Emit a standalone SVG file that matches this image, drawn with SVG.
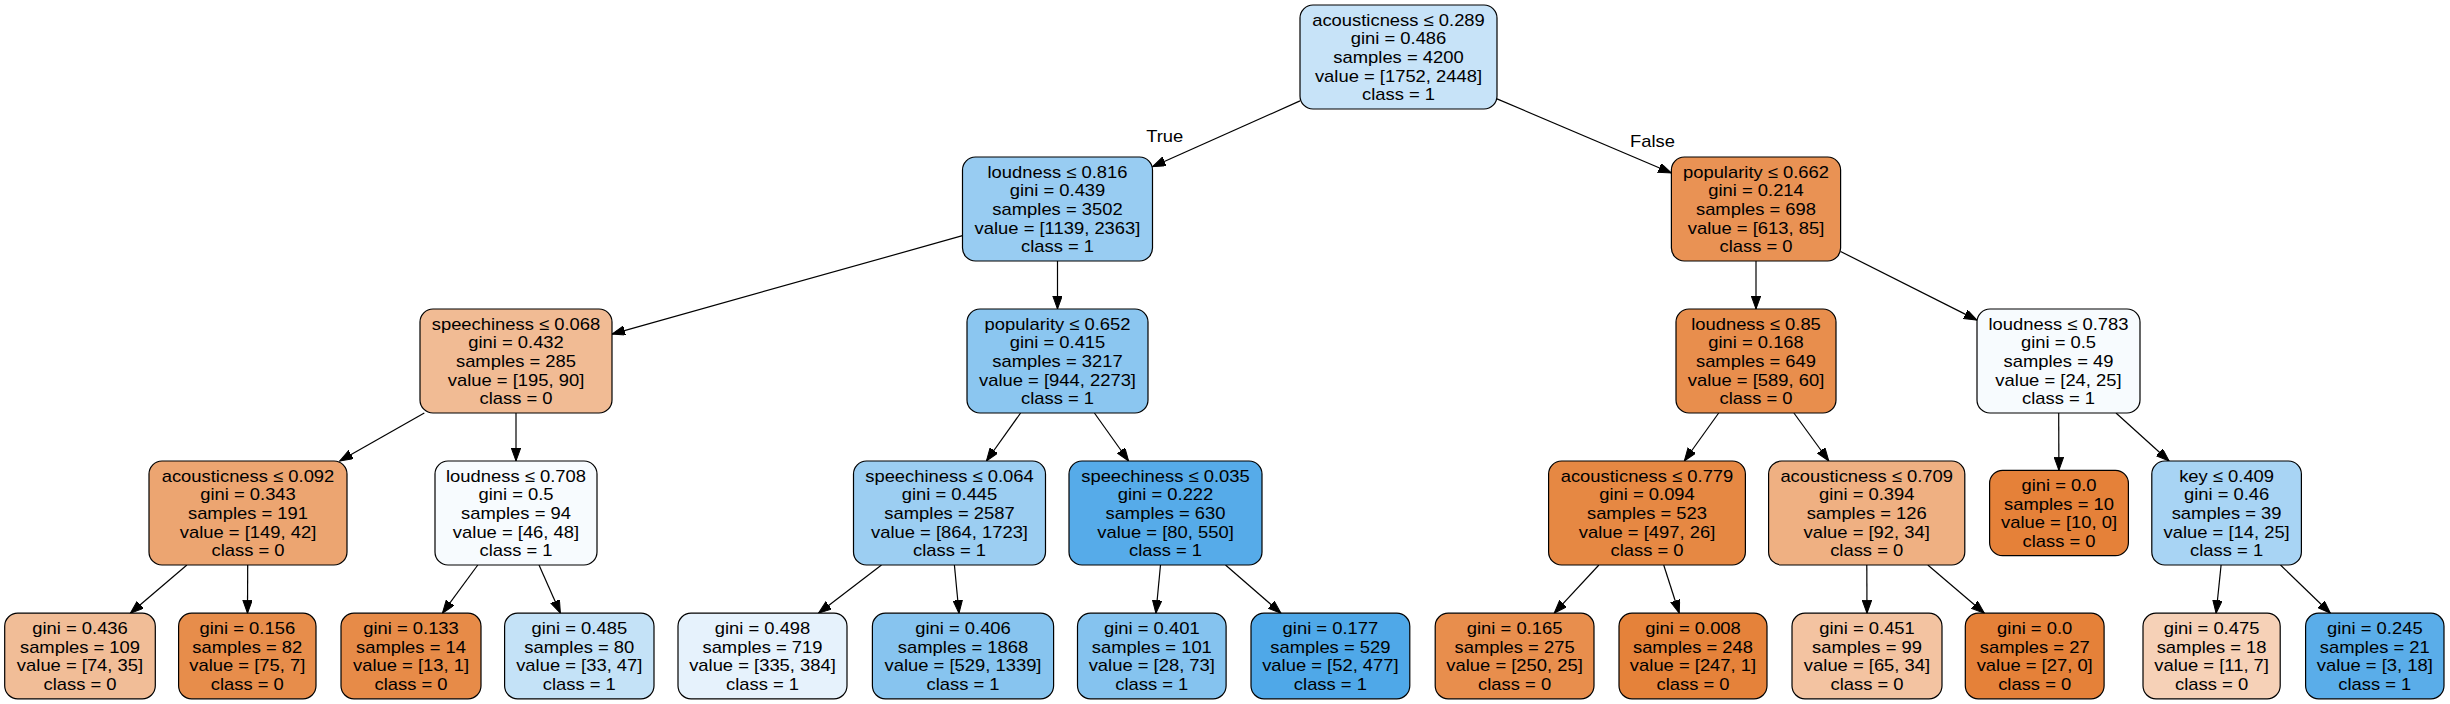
<svg xmlns="http://www.w3.org/2000/svg" width="2450" height="704" viewBox="0 0 2450 704">
<style>
  .node rect { stroke: #000; stroke-width: 1.2; }
  text { font-family: "Liberation Sans", Arial, Helvetica, sans-serif; font-size: 16.8px; text-anchor: middle; fill: #000; }
  .edges line { stroke: #000; stroke-width: 1.2; marker-end: url(#arrow); }
</style>
<defs>
  <marker id="arrow" markerUnits="userSpaceOnUse" markerWidth="14" markerHeight="10" refX="13" refY="4.7" orient="auto">
    <path d="M0,0 L13,4.7 L0,9.4 Z" fill="#000" stroke="#000" stroke-width="1"/>
  </marker>
</defs>
<rect width="2450" height="704" fill="#fff"/>

<g id="connectors" class="edges">
  <line x1="1300" y1="100.9" x2="1152.5" y2="166.7"/>
  <line x1="1497" y1="98.9" x2="1671.4" y2="173"/>
  <line x1="962.5" y1="235.7" x2="612" y2="334.1"/>
  <line x1="1057.5" y1="261" x2="1057.5" y2="309"/>
  <line x1="1756" y1="261" x2="1756" y2="309"/>
  <line x1="1840.6" y1="251.5" x2="1977" y2="320.1"/>
  <line x1="424.3" y1="413" x2="339.7" y2="461"/>
  <line x1="516" y1="413" x2="516" y2="461"/>
  <line x1="1020.6" y1="413" x2="986.4" y2="461"/>
  <line x1="1094.4" y1="413" x2="1128.6" y2="461"/>
  <line x1="1718.7" y1="413" x2="1684.3" y2="461"/>
  <line x1="1793.9" y1="413" x2="1828.8" y2="461"/>
  <line x1="2058.7" y1="413" x2="2058.9" y2="470.3"/>
  <line x1="2116" y1="413" x2="2169.1" y2="461"/>
  <line x1="186.9" y1="565" x2="130.3" y2="613.2"/>
  <line x1="247.7" y1="565" x2="247.5" y2="613.2"/>
  <line x1="477.8" y1="565" x2="442.4" y2="613.2"/>
  <line x1="539" y1="565" x2="560.4" y2="613.2"/>
  <line x1="881.5" y1="565" x2="818.5" y2="613.2"/>
  <line x1="954.4" y1="565" x2="959" y2="613.2"/>
  <line x1="1160.5" y1="565" x2="1155.9" y2="613.2"/>
  <line x1="1225.5" y1="565" x2="1281" y2="613.2"/>
  <line x1="1598.9" y1="565" x2="1554.2" y2="613.2"/>
  <line x1="1663.7" y1="565" x2="1679.2" y2="613.2"/>
  <line x1="1866.8" y1="565" x2="1867" y2="613.2"/>
  <line x1="1927.8" y1="565" x2="1984.4" y2="613.2"/>
  <line x1="2221.1" y1="565" x2="2216.1" y2="613.2"/>
  <line x1="2280.5" y1="565" x2="2330.4" y2="613.2"/>
  <g transform="translate(1164.7,0) scale(1.095,1)"><text x="0" y="141.7">True</text></g>
  <g transform="translate(1652.5,0) scale(1.095,1)"><text x="0" y="146.7">False</text></g>
</g>

<!-- Level 0 -->
<g id="node0" class="node">
  <rect x="1300" y="5" width="197" height="104" rx="13" fill="#c7e3f8"/>
  <g transform="translate(1398.5,0) scale(1.095,1)">
    <text x="0" y="25.8">acousticness ≤ 0.289</text><text x="0" y="44.4">gini = 0.486</text><text x="0" y="63">samples = 4200</text><text x="0" y="81.6">value = [1752, 2448]</text><text x="0" y="100.2">class = 1</text>
  </g>
</g>

<!-- Level 1 -->
<g id="node1" class="node">
  <rect x="962.5" y="157" width="190" height="104" rx="13" fill="#98ccf2"/>
  <g transform="translate(1057.5,0) scale(1.095,1)">
    <text x="0" y="177.8">loudness ≤ 0.816</text><text x="0" y="196.4">gini = 0.439</text><text x="0" y="215">samples = 3502</text><text x="0" y="233.6">value = [1139, 2363]</text><text x="0" y="252.2">class = 1</text>
  </g>
</g>
<g id="node16" class="node">
  <rect x="1671.4" y="157" width="169.2" height="104" rx="13" fill="#e99254"/>
  <g transform="translate(1756,0) scale(1.095,1)">
    <text x="0" y="177.8">popularity ≤ 0.662</text><text x="0" y="196.4">gini = 0.214</text><text x="0" y="215">samples = 698</text><text x="0" y="233.6">value = [613, 85]</text><text x="0" y="252.2">class = 0</text>
  </g>
</g>

<!-- Level 2 -->
<g id="node2" class="node">
  <rect x="420" y="309" width="192" height="104" rx="13" fill="#f1bb94"/>
  <g transform="translate(516,0) scale(1.095,1)">
    <text x="0" y="329.8">speechiness ≤ 0.068</text><text x="0" y="348.4">gini = 0.432</text><text x="0" y="367">samples = 285</text><text x="0" y="385.6">value = [195, 90]</text><text x="0" y="404.2">class = 0</text>
  </g>
</g>
<g id="node9" class="node">
  <rect x="967" y="309" width="181" height="104" rx="13" fill="#8bc6f0"/>
  <g transform="translate(1057.5,0) scale(1.095,1)">
    <text x="0" y="329.8">popularity ≤ 0.652</text><text x="0" y="348.4">gini = 0.415</text><text x="0" y="367">samples = 3217</text><text x="0" y="385.6">value = [944, 2273]</text><text x="0" y="404.2">class = 1</text>
  </g>
</g>
<g id="node17" class="node">
  <rect x="1676" y="309" width="160" height="104" rx="13" fill="#e88e4d"/>
  <g transform="translate(1756,0) scale(1.095,1)">
    <text x="0" y="329.8">loudness ≤ 0.85</text><text x="0" y="348.4">gini = 0.168</text><text x="0" y="367">samples = 649</text><text x="0" y="385.6">value = [589, 60]</text><text x="0" y="404.2">class = 0</text>
  </g>
</g>
<g id="node24" class="node">
  <rect x="1977" y="309" width="163" height="104" rx="13" fill="#f7fbfe"/>
  <g transform="translate(2058.5,0) scale(1.095,1)">
    <text x="0" y="329.8">loudness ≤ 0.783</text><text x="0" y="348.4">gini = 0.5</text><text x="0" y="367">samples = 49</text><text x="0" y="385.6">value = [24, 25]</text><text x="0" y="404.2">class = 1</text>
  </g>
</g>

<!-- Level 3 -->
<g id="node3" class="node">
  <rect x="149" y="461" width="198" height="104" rx="13" fill="#eca571"/>
  <g transform="translate(248,0) scale(1.095,1)">
    <text x="0" y="481.8">acousticness ≤ 0.092</text><text x="0" y="500.4">gini = 0.343</text><text x="0" y="519">samples = 191</text><text x="0" y="537.6">value = [149, 42]</text><text x="0" y="556.2">class = 0</text>
  </g>
</g>
<g id="node6" class="node">
  <rect x="435" y="461" width="162" height="104" rx="13" fill="#f7fbfe"/>
  <g transform="translate(516,0) scale(1.095,1)">
    <text x="0" y="481.8">loudness ≤ 0.708</text><text x="0" y="500.4">gini = 0.5</text><text x="0" y="519">samples = 94</text><text x="0" y="537.6">value = [46, 48]</text><text x="0" y="556.2">class = 1</text>
  </g>
</g>
<g id="node10" class="node">
  <rect x="853.5" y="461" width="192" height="104" rx="13" fill="#9ccef2"/>
  <g transform="translate(949.5,0) scale(1.095,1)">
    <text x="0" y="481.8">speechiness ≤ 0.064</text><text x="0" y="500.4">gini = 0.445</text><text x="0" y="519">samples = 2587</text><text x="0" y="537.6">value = [864, 1723]</text><text x="0" y="556.2">class = 1</text>
  </g>
</g>
<g id="node13" class="node">
  <rect x="1069" y="461" width="193" height="104" rx="13" fill="#56abe9"/>
  <g transform="translate(1165.5,0) scale(1.095,1)">
    <text x="0" y="481.8">speechiness ≤ 0.035</text><text x="0" y="500.4">gini = 0.222</text><text x="0" y="519">samples = 630</text><text x="0" y="537.6">value = [80, 550]</text><text x="0" y="556.2">class = 1</text>
  </g>
</g>
<g id="node18" class="node">
  <rect x="1548.6" y="461" width="196.8" height="104" rx="13" fill="#e68843"/>
  <g transform="translate(1647,0) scale(1.095,1)">
    <text x="0" y="481.8">acousticness ≤ 0.779</text><text x="0" y="500.4">gini = 0.094</text><text x="0" y="519">samples = 523</text><text x="0" y="537.6">value = [497, 26]</text><text x="0" y="556.2">class = 0</text>
  </g>
</g>
<g id="node21" class="node">
  <rect x="1768.6" y="461" width="196.2" height="104" rx="13" fill="#efb082"/>
  <g transform="translate(1866.7,0) scale(1.095,1)">
    <text x="0" y="481.8">acousticness ≤ 0.709</text><text x="0" y="500.4">gini = 0.394</text><text x="0" y="519">samples = 126</text><text x="0" y="537.6">value = [92, 34]</text><text x="0" y="556.2">class = 0</text>
  </g>
</g>
<g id="node25" class="node">
  <rect x="1989.6" y="470.3" width="138.8" height="85.4" rx="13" fill="#e58139"/>
  <g transform="translate(2059,0) scale(1.095,1)">
    <text x="0" y="491.1">gini = 0.0</text><text x="0" y="509.7">samples = 10</text><text x="0" y="528.3">value = [10, 0]</text><text x="0" y="546.9">class = 0</text>
  </g>
</g>
<g id="node26" class="node">
  <rect x="2151.8" y="461" width="149.6" height="104" rx="13" fill="#a8d4f4"/>
  <g transform="translate(2226.6,0) scale(1.095,1)">
    <text x="0" y="481.8">key ≤ 0.409</text><text x="0" y="500.4">gini = 0.46</text><text x="0" y="519">samples = 39</text><text x="0" y="537.6">value = [14, 25]</text><text x="0" y="556.2">class = 1</text>
  </g>
</g>

<!-- Level 4 leaves -->
<g id="node4" class="node">
  <rect x="4.7" y="613.2" width="150.6" height="85.6" rx="13" fill="#f1bd97"/>
  <g transform="translate(80,0) scale(1.095,1)">
    <text x="0" y="634.1">gini = 0.436</text><text x="0" y="652.7">samples = 109</text><text x="0" y="671.3">value = [74, 35]</text><text x="0" y="689.9">class = 0</text>
  </g>
</g>
<g id="node5" class="node">
  <rect x="178.6" y="613.2" width="137.4" height="85.6" rx="13" fill="#e78d4b"/>
  <g transform="translate(247.3,0) scale(1.095,1)">
    <text x="0" y="634.1">gini = 0.156</text><text x="0" y="652.7">samples = 82</text><text x="0" y="671.3">value = [75, 7]</text><text x="0" y="689.9">class = 0</text>
  </g>
</g>
<g id="node7" class="node">
  <rect x="341" y="613.2" width="140" height="85.6" rx="13" fill="#e78b48"/>
  <g transform="translate(411,0) scale(1.095,1)">
    <text x="0" y="634.1">gini = 0.133</text><text x="0" y="652.7">samples = 14</text><text x="0" y="671.3">value = [13, 1]</text><text x="0" y="689.9">class = 0</text>
  </g>
</g>
<g id="node8" class="node">
  <rect x="504.6" y="613.2" width="149.4" height="85.6" rx="13" fill="#c4e2f7"/>
  <g transform="translate(579.3,0) scale(1.095,1)">
    <text x="0" y="634.1">gini = 0.485</text><text x="0" y="652.7">samples = 80</text><text x="0" y="671.3">value = [33, 47]</text><text x="0" y="689.9">class = 1</text>
  </g>
</g>
<g id="node11" class="node">
  <rect x="678" y="613.2" width="169" height="85.6" rx="13" fill="#e6f2fc"/>
  <g transform="translate(762.5,0) scale(1.095,1)">
    <text x="0" y="634.1">gini = 0.498</text><text x="0" y="652.7">samples = 719</text><text x="0" y="671.3">value = [335, 384]</text><text x="0" y="689.9">class = 1</text>
  </g>
</g>
<g id="node12" class="node">
  <rect x="872.4" y="613.2" width="181.2" height="85.6" rx="13" fill="#87c4ef"/>
  <g transform="translate(963,0) scale(1.095,1)">
    <text x="0" y="634.1">gini = 0.406</text><text x="0" y="652.7">samples = 1868</text><text x="0" y="671.3">value = [529, 1339]</text><text x="0" y="689.9">class = 1</text>
  </g>
</g>
<g id="node14" class="node">
  <rect x="1077.5" y="613.2" width="148.6" height="85.6" rx="13" fill="#85c3ef"/>
  <g transform="translate(1151.8,0) scale(1.095,1)">
    <text x="0" y="634.1">gini = 0.401</text><text x="0" y="652.7">samples = 101</text><text x="0" y="671.3">value = [28, 73]</text><text x="0" y="689.9">class = 1</text>
  </g>
</g>
<g id="node15" class="node">
  <rect x="1251" y="613.2" width="158.8" height="85.6" rx="13" fill="#4fa8e8"/>
  <g transform="translate(1330.4,0) scale(1.095,1)">
    <text x="0" y="634.1">gini = 0.177</text><text x="0" y="652.7">samples = 529</text><text x="0" y="671.3">value = [52, 477]</text><text x="0" y="689.9">class = 1</text>
  </g>
</g>
<g id="node19" class="node">
  <rect x="1435.2" y="613.2" width="158.8" height="85.6" rx="13" fill="#e88e4d"/>
  <g transform="translate(1514.6,0) scale(1.095,1)">
    <text x="0" y="634.1">gini = 0.165</text><text x="0" y="652.7">samples = 275</text><text x="0" y="671.3">value = [250, 25]</text><text x="0" y="689.9">class = 0</text>
  </g>
</g>
<g id="node20" class="node">
  <rect x="1619" y="613.2" width="148" height="85.6" rx="13" fill="#e5823a"/>
  <g transform="translate(1693,0) scale(1.095,1)">
    <text x="0" y="634.1">gini = 0.008</text><text x="0" y="652.7">samples = 248</text><text x="0" y="671.3">value = [247, 1]</text><text x="0" y="689.9">class = 0</text>
  </g>
</g>
<g id="node22" class="node">
  <rect x="1792" y="613.2" width="150" height="85.6" rx="13" fill="#f3c3a1"/>
  <g transform="translate(1867,0) scale(1.095,1)">
    <text x="0" y="634.1">gini = 0.451</text><text x="0" y="652.7">samples = 99</text><text x="0" y="671.3">value = [65, 34]</text><text x="0" y="689.9">class = 0</text>
  </g>
</g>
<g id="node23" class="node">
  <rect x="1965.3" y="613.2" width="138.8" height="85.6" rx="13" fill="#e58139"/>
  <g transform="translate(2034.7,0) scale(1.095,1)">
    <text x="0" y="634.1">gini = 0.0</text><text x="0" y="652.7">samples = 27</text><text x="0" y="671.3">value = [27, 0]</text><text x="0" y="689.9">class = 0</text>
  </g>
</g>
<g id="node27" class="node">
  <rect x="2143" y="613.2" width="137.2" height="85.6" rx="13" fill="#f6d1b7"/>
  <g transform="translate(2211.6,0) scale(1.095,1)">
    <text x="0" y="634.1">gini = 0.475</text><text x="0" y="652.7">samples = 18</text><text x="0" y="671.3">value = [11, 7]</text><text x="0" y="689.9">class = 0</text>
  </g>
</g>
<g id="node28" class="node">
  <rect x="2305.6" y="613.2" width="138.4" height="85.6" rx="13" fill="#5aade9"/>
  <g transform="translate(2374.8,0) scale(1.095,1)">
    <text x="0" y="634.1">gini = 0.245</text><text x="0" y="652.7">samples = 21</text><text x="0" y="671.3">value = [3, 18]</text><text x="0" y="689.9">class = 1</text>
  </g>
</g>
</svg>
